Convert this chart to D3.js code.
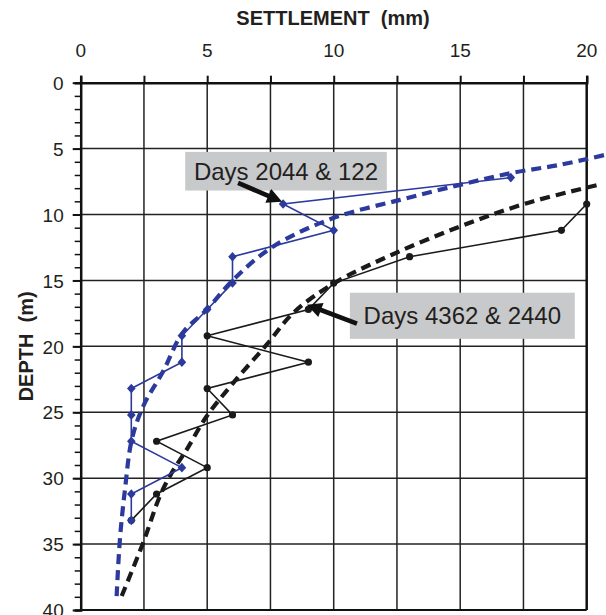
<!DOCTYPE html>
<html><head><meta charset="utf-8">
<script src="https://cdn.jsdelivr.net/npm/d3@7"></script>
<style>html,body{margin:0;padding:0;background:#fff}svg{display:block}</style>
</head><body>
<svg id="chart" width="606" height="615"></svg>
<script>
// ---------- data ----------
const xTickValues = [0, 5, 10, 15, 20];
const yTickValues = [0, 5, 10, 15, 20, 25, 30, 35, 40];
const xTitle = "SETTLEMENT  (mm)";
const yTitle = "DEPTH  (m)";

// measured profile "Days 2044 & 122" (blue, diamonds): [settlement mm, depth m]
const blueSettlement = [17, 8, 10, 6, 6, 5, 4, 4, 2, 2, 2, 4, 2, 2];
const blueDepth      = [7.2, 9.2, 11.2, 13.2, 15.2, 17.2, 19.2, 21.2, 23.2, 25.2, 27.2, 29.2, 31.2, 33.2];

// measured profile "Days 4362 & 2440" (black, circles)
const blackSettlement = [20, 19, 13, 10, 9, 5, 9, 5, 6, 3, 5, 3, 2];
const blackDepth      = [9.2, 11.2, 13.2, 15.2, 17.2, 19.2, 21.2, 23.2, 25.2, 27.2, 29.2, 31.2, 33.2];

// fitted (dashed) curves
const blueFitSettlement = [1.42, 1.55, 1.75, 2.02, 2.47, 3.26, 4.02, 4.98, 6.03, 7.61, 9.98, 12.62, 14.99, 17.0, 18.94, 20.72];
const blueFitDepth      = [38.94, 34.64, 30.86, 27.07, 24.55, 21.89, 19.0, 17.22, 14.95, 12.42, 10.27, 8.89, 7.75, 6.86, 6.23, 5.48];
const blackFitSettlement = [1.62, 2.47, 3.13, 3.60, 4.19, 4.98, 6.03, 7.35, 8.40, 9.98, 12.3, 14.99, 17.63, 20.46];
const blackFitDepth      = [38.94, 34.89, 31.36, 29.59, 27.83, 25.30, 22.77, 19.87, 17.47, 15.25, 13.05, 10.91, 9.14, 7.75];

// annotations (in data units)
const labelTexts   = ["Days 2044 & 122", "Days 4362 & 2440"];
const labelBoxX    = [[4.13, 12.1], [10.64, 19.53]];
const labelBoxY    = [[5.25, 8.18], [15.93, 19.43]];
const arrowFrom    = [[6.22, 7.6], [10.92, 18.28]];
const arrowTo      = [[7.96, 9.04], [8.94, 16.84]];

// ---------- drawing ----------
const FONT = "'Liberation Sans', Arial, Helvetica, sans-serif";
const svg = d3.select("#chart");
const x = d3.scaleLinear().domain([0, 20]).range([80.7, 586.7]);
const y = d3.scaleLinear().domain([0, 40]).range([82.7, 610]);
const BLUE = "#2b3a9c", BLACK = "#1a1a1a";

// grid
const grid = svg.append("g");
grid.selectAll("line.v").data(d3.range(2.5, 20, 2.5)).join("line")
  .attr("x1", d => x(d)).attr("x2", d => x(d)).attr("y1", y(0)).attr("y2", y(40))
  .attr("stroke", "#222").attr("stroke-width", 1.5);
grid.selectAll("line.h").data(d3.range(5, 40, 5)).join("line")
  .attr("x1", x(0)).attr("x2", x(20)).attr("y1", d => y(d)).attr("y2", d => y(d))
  .attr("stroke", "#222").attr("stroke-width", 1.5);

// frame (right, bottom)
svg.append("line").attr("x1", x(20)).attr("x2", x(20)).attr("y1", y(0)).attr("y2", y(40))
  .attr("stroke", "#111").attr("stroke-width", 2.5);
svg.append("line").attr("x1", x(0)).attr("x2", x(20)).attr("y1", y(40)).attr("y2", y(40))
  .attr("stroke", "#111").attr("stroke-width", 2);

// top axis
const xAxis = d3.axisTop(x).tickValues(d3.range(0, 20.01, 2.5)).tickSize(7).tickFormat("");
const gx = svg.append("g").attr("transform", `translate(0,${y(0)})`).call(xAxis);
gx.select(".domain").attr("stroke", "#111").attr("stroke-width", 2.5);
gx.selectAll(".tick line").attr("stroke", "#111").attr("stroke-width", 2);
svg.append("g").selectAll("text").data(xTickValues).join("text")
  .attr("x", d => x(d)).attr("y", 57).attr("text-anchor", "middle")
  .attr("font-family", FONT).attr("font-size", 19).attr("fill", "#231f20").text(d => d);

// left axis: minor ticks every 1, major every 5
const yAxisMinor = d3.axisLeft(y).tickValues(d3.range(0, 40.01, 1)).tickSize(6).tickFormat("");
const gy = svg.append("g").attr("transform", `translate(${x(0)},0)`).call(yAxisMinor);
gy.select(".domain").attr("stroke", "#111").attr("stroke-width", 2.5);
gy.selectAll(".tick line").attr("stroke", "#111").attr("stroke-width", 1.5);
const yAxisMajor = d3.axisLeft(y).tickValues(yTickValues).tickSize(8).tickPadding(8);
const gy2 = svg.append("g").attr("transform", `translate(${x(0)},0)`).call(yAxisMajor);
gy2.select(".domain").remove();
gy2.selectAll(".tick line").attr("stroke", "#111").attr("stroke-width", 2);
gy2.selectAll(".tick text").attr("font-family", FONT).attr("font-size", 19).attr("fill", "#231f20")
  .attr("x", -17).attr("dy", "0.35em");

// titles
svg.append("text").attr("x", 333).attr("y", 24.5).attr("text-anchor", "middle")
  .attr("font-family", FONT).attr("font-size", 20).attr("font-weight", "bold")
  .style("white-space", "pre").attr("fill", "#231f20").text(xTitle);
svg.append("text").attr("transform", `translate(33,${(y(0) + y(40)) / 2}) rotate(-90)`)
  .attr("text-anchor", "middle").attr("font-family", FONT).attr("font-size", 20)
  .attr("font-weight", "bold").style("white-space", "pre").attr("fill", "#231f20").text(yTitle);

// fitted dashed curves
const curveLine = d3.line().x(d => x(d[0])).y(d => y(d[1])).curve(d3.curveCatmullRom.alpha(0.5));
svg.append("path").datum(blueFitSettlement.map((v, i) => [v, blueFitDepth[i]]))
  .attr("d", curveLine).attr("fill", "none").attr("stroke", BLUE).attr("stroke-width", 4.2)
  .attr("stroke-dasharray", "10,6");
svg.append("path").datum(blackFitSettlement.map((v, i) => [v, blackFitDepth[i]]))
  .attr("d", curveLine).attr("fill", "none").attr("stroke", BLACK).attr("stroke-width", 4.2)
  .attr("stroke-dasharray", "10,6");

// measured lines
const straight = d3.line().x(d => x(d[0])).y(d => y(d[1]));
const blackPts = blackSettlement.map((v, i) => [v, blackDepth[i]]);
const bluePts = blueSettlement.map((v, i) => [v, blueDepth[i]]);
svg.append("path").datum(blackPts).attr("d", straight).attr("fill", "none")
  .attr("stroke", BLACK).attr("stroke-width", 1.6);
svg.append("g").selectAll("circle").data(blackPts).join("circle")
  .attr("cx", d => x(d[0])).attr("cy", d => y(d[1])).attr("r", 3.6).attr("fill", BLACK);
svg.append("path").datum(bluePts).attr("d", straight).attr("fill", "none")
  .attr("stroke", BLUE).attr("stroke-width", 1.6);
svg.append("g").selectAll("path").data(bluePts).join("path")
  .attr("transform", d => `translate(${x(d[0])},${y(d[1])})`)
  .attr("d", "M0,-4.8L4.3,0L0,4.8L-4.3,0Z").attr("fill", BLUE);

// annotation boxes + arrows
labelTexts.forEach((t, i) => {
  const x0 = x(labelBoxX[i][0]), x1 = x(labelBoxX[i][1]);
  const y0 = y(labelBoxY[i][0]), y1 = y(labelBoxY[i][1]);
  svg.append("rect").attr("x", x0).attr("y", y0).attr("width", x1 - x0).attr("height", y1 - y0)
    .attr("fill", "#c8c9cb");
  svg.append("text").attr("x", (x0 + x1) / 2).attr("y", (y0 + y1) / 2).attr("dy", "0.36em")
    .attr("text-anchor", "middle").attr("font-family", FONT).attr("font-size", 24)
    .attr("fill", "#231f20").text(t);
  // arrow
  const ax = x(arrowFrom[i][0]), ay = y(arrowFrom[i][1]);
  const bx = x(arrowTo[i][0]), by = y(arrowTo[i][1]);
  const len = Math.hypot(bx - ax, by - ay), ux = (bx - ax) / len, uy = (by - ay) / len;
  const px = -uy, py = ux, hl = 15, hw = 7.5, sw = 2.3;
  const hx = bx - ux * hl, hy = by - uy * hl;
  const pts = [
    [ax + px * sw, ay + py * sw], [hx + px * sw, hy + py * sw], [hx + px * hw, hy + py * hw],
    [bx, by], [hx - px * hw, hy - py * hw], [hx - px * sw, hy - py * sw], [ax - px * sw, ay - py * sw]
  ];
  svg.append("path").attr("d", "M" + pts.map(p => p.join(",")).join("L") + "Z").attr("fill", "#111");
});
</script>
</body></html>
